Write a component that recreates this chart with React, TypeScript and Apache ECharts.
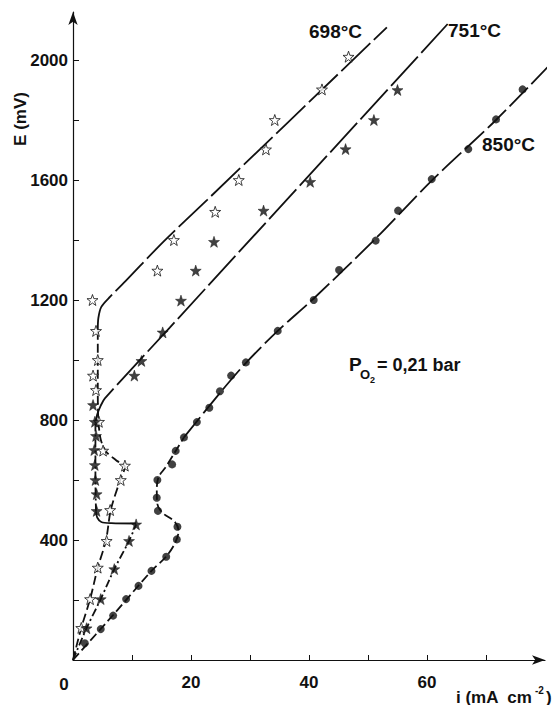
import React, { useEffect, useRef } from "react";
import * as echarts from "echarts";

// Axis ticks and labels
const xTickValues = [10, 20, 30, 40, 50, 60, 70];
const xLabelValues = [20, 40, 60];
const yTickValues = [200, 400, 600, 800, 1000, 1200, 1400, 1600, 1800, 2000];
const yLabelValues = [400, 800, 1200, 1600, 2000];

// Measured points: [i (mA cm^-2), E (mV)]
const points698 = [
  [1.4, 107], [2.9, 203], [4.2, 308], [5.7, 397], [6.3, 500], [8.1, 600],
  [8.8, 648], [5.1, 698], [4.4, 794], [3.9, 900], [3.4, 948], [4.2, 1000],
  [3.9, 1097], [3.3, 1200], [14.3, 1298], [17.1, 1400], [24.1, 1494],
  [28.1, 1600], [32.7, 1702], [34.2, 1800], [42.2, 1902], [46.7, 2011],
];
const points751 = [
  [2.3, 106], [4.7, 203], [7.0, 303], [9.5, 397], [10.7, 452], [4.0, 497],
  [4.0, 553], [3.8, 600], [3.7, 650], [3.6, 700], [3.9, 747], [3.7, 794],
  [3.4, 850], [10.4, 948], [11.6, 997], [15.2, 1092], [18.3, 1198],
  [20.8, 1298], [23.9, 1394], [32.3, 1498], [40.2, 1594], [46.2, 1703],
  [51.0, 1800], [55.0, 1900],
];
const points850 = [
  [2.0, 56], [4.7, 103], [6.8, 148], [9.0, 203], [11.1, 247], [13.3, 297],
  [15.8, 344], [17.6, 402], [17.7, 444], [14.4, 497], [14.2, 541], [14.3, 600],
  [16.8, 652], [17.4, 697], [18.8, 742], [21.0, 793], [23.1, 841], [24.9, 896],
  [26.8, 948], [29.3, 992], [34.7, 1097], [40.8, 1200], [45.1, 1300],
  [51.3, 1398], [55.1, 1498], [60.8, 1603], [67.0, 1703], [71.7, 1802],
  [76.2, 1902],
];

// Fitted polarisation curves, split where the drawing style changes
const curve698Low = [
  [0, 0], [1.4, 107], [2.9, 203], [4.2, 308], [5.6, 400], [6.4, 500],
  [8.0, 600], [8.8, 643], [7.3, 666], [5.6, 695], [4.7, 735], [4.3, 800],
  [4.2, 900], [4.2, 1000], [4.2, 1100],
];
const curve698High = [
  [4.2, 1100], [4.3, 1140], [4.8, 1177], [6.3, 1211], [9.1, 1267],
  [15.3, 1394], [22.7, 1533], [53.2, 2109],
];
const curve751Low = [
  [0, 0], [2.3, 106], [4.7, 203], [7.0, 303], [9.5, 397], [10.7, 452],
];
const curve751Step = [
  [10.7, 455], [6.5, 456], [4.8, 460], [4.1, 475], [3.9, 495],
];
const curve751Mid = [
  [3.9, 495], [3.8, 600], [3.8, 700], [3.8, 790],
];
const curve751High = [
  [3.8, 790], [4.1, 818], [4.7, 848], [5.4, 872], [16.4, 1108], [63.5, 2120],
];
const curve850Low = [
  [0, 0], [6.8, 150], [13.3, 297], [15.8, 345], [17.3, 390], [17.9, 430],
  [17.2, 462], [15.2, 490], [14.3, 520], [14.2, 570], [14.5, 610],
  [15.6, 640], [17.2, 690], [18.8, 742],
];
const curve850High = [
  [18.8, 742], [24.9, 890], [29.3, 990], [34.7, 1097], [40.8, 1205],
  [51.3, 1405], [60.8, 1598], [71.7, 1800], [81.6, 2000],
];

const STAR =
  "path://M0,-10 L2.35,-3.24 L9.51,-3.09 L3.8,1.24 L5.88,8.09 L0,4 L-5.88,8.09 L-3.8,1.24 L-9.51,-3.09 L-2.35,-3.24 Z";

const INK = "#111111";
const FONT = "'Liberation Sans', Arial, Helvetica, sans-serif";

function curve(data: number[][], dash: number[] | string, smooth = 0.3) {
  return {
    type: "line",
    data,
    showSymbol: false,
    symbol: "none",
    smooth,
    clip: false,
    silent: true,
    lineStyle: { color: INK, width: 1.8, type: dash },
    z: 2,
  };
}

function txt(
  text: string,
  x: number,
  y: number,
  size: number,
  align = "left",
  extra: Record<string, unknown> = {}
) {
  return {
    type: "text",
    x,
    y,
    ...extra,
    style: {
      text,
      fill: INK,
      fontSize: size,
      fontFamily: FONT,
      fontWeight: "bold",
      align,
      textAlign: align,
      verticalAlign: "middle",
      textVerticalAlign: "middle",
    },
  };
}

export default function App() {
  const ref = useRef<HTMLDivElement>(null);

  useEffect(() => {
    if (!ref.current) return;
    const chart = echarts.init(ref.current, undefined, { renderer: "svg" });

    const axisLine = {
      show: true,
      lineStyle: { color: INK, width: 1.2 },
      symbol: ["none", "arrow"],
      symbolSize: [7, 13],
    };

    chart.setOption({
      animation: false,
      backgroundColor: "#ffffff",
      grid: { left: 73, top: 12, width: 472, height: 648 },
      xAxis: {
        type: "value",
        min: 0,
        max: 80,
        interval: 10,
        axisLine,
        axisTick: {
          show: true,
          inside: true,
          length: 5,
          customValues: xTickValues,
          lineStyle: { color: INK, width: 1 },
        },
        axisLabel: {
          show: true,
          customValues: xLabelValues,
          margin: 14,
          color: INK,
          fontSize: 17,
          fontWeight: "bold",
          fontFamily: FONT,
          formatter: (v: number) => (xLabelValues.includes(v) ? String(v) : ""),
        },
        splitLine: { show: false },
      },
      yAxis: {
        type: "value",
        min: 0,
        max: 2160,
        interval: 200,
        axisLine,
        axisTick: {
          show: true,
          inside: true,
          length: 6,
          customValues: yTickValues,
          lineStyle: { color: INK, width: 1 },
        },
        axisLabel: {
          show: true,
          customValues: yLabelValues,
          margin: 5,
          color: INK,
          fontSize: 17,
          fontWeight: "bold",
          fontFamily: FONT,
          formatter: (v: number) => (yLabelValues.includes(v) ? String(v) : ""),
        },
        splitLine: { show: false },
      },
      series: [
        curve(curve698Low, [9, 4]),
        curve(curve698High, [40, 5]),
        curve(curve751Low, [8, 3, 2, 3]),
        curve(curve751Step, "solid"),
        curve(curve751Mid, [8, 3, 2, 3]),
        curve(curve751High, [40, 5]),
        curve(curve850Low, [9, 4]),
        curve(curve850High, [26, 5]),
        {
          type: "scatter",
          data: points698,
          symbol: STAR,
          symbolSize: 11,
          itemStyle: { color: "#ffffff", borderColor: INK, borderWidth: 1 },
          z: 4,
          silent: true,
        },
        {
          type: "scatter",
          data: points751,
          symbol: STAR,
          symbolSize: 11,
          itemStyle: { color: INK, borderColor: INK, borderWidth: 0.6 },
          z: 4,
          silent: true,
        },
        {
          type: "scatter",
          data: points850,
          symbol: "circle",
          symbolSize: 8,
          itemStyle: { color: INK },
          z: 4,
          silent: true,
        },
      ],
      graphic: [
        txt("0", 64, 684, 17, "center"),
        txt("E (mV)", 20, 119, 17, "center", { rotation: Math.PI / 2 }),
        txt("698°C", 309, 31, 19),
        txt("751°C", 448, 30, 19),
        txt("850°C", 482, 144, 19),
        txt("P", 349, 364, 19),
        txt("O", 360, 374, 13),
        txt("2", 370, 380, 9),
        txt("= 0,21 bar", 377, 365, 18),
        txt("i (mA  cm", 456, 697, 17),
        txt("-2", 535, 690, 10),
        txt(")", 546, 697, 17),
      ],
    });

    return () => chart.dispose();
  }, []);

  return (
    <div
      ref={ref}
      style={{ position: "absolute", left: 0, top: 0, width: 555, height: 705 }}
    />
  );
}
